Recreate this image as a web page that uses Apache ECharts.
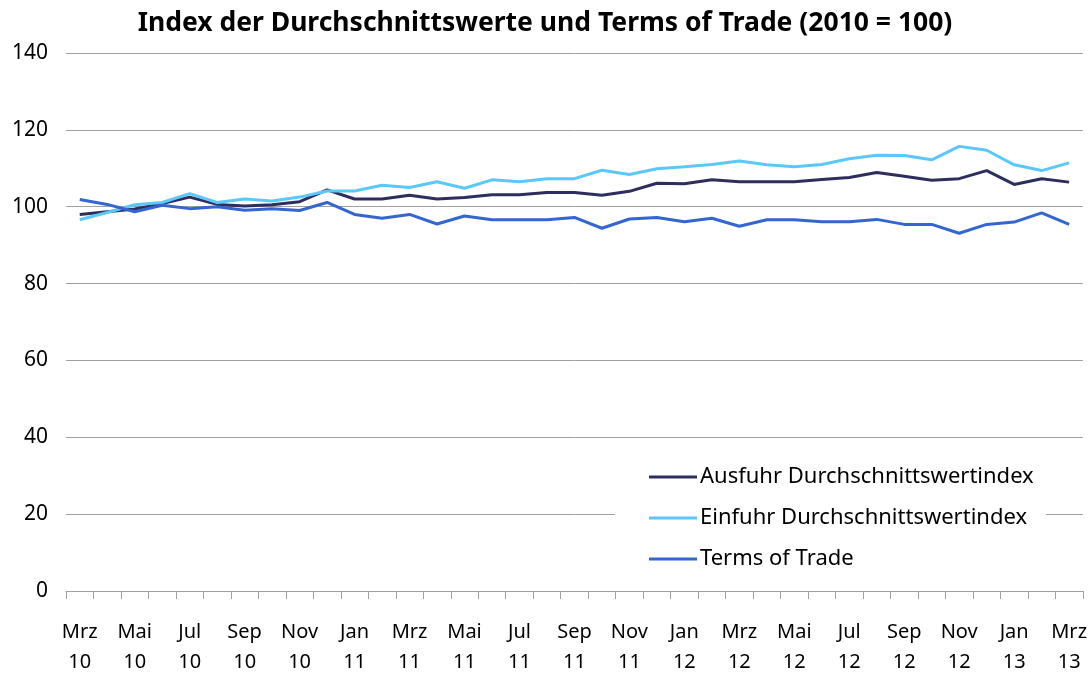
<!DOCTYPE html>
<html>
<head>
<meta charset="utf-8">
<script src="https://cdn.jsdelivr.net/npm/echarts@6/dist/echarts.min.js"></script>
<style>
  html, body { margin: 0; padding: 0; background: #fff; }
  #chart { width: 1090px; height: 677px; }
</style>
</head>
<body>
<div id="chart"></div>
<script>
// Monate Mrz 2010 bis Mrz 2013
const categories = [
  "Mrz\n10", "Apr\n10", "Mai\n10", "Jun\n10", "Jul\n10", "Aug\n10", "Sep\n10", "Okt\n10", "Nov\n10", "Dez\n10",
  "Jan\n11", "Feb\n11", "Mrz\n11", "Apr\n11", "Mai\n11", "Jun\n11", "Jul\n11", "Aug\n11", "Sep\n11", "Okt\n11", "Nov\n11", "Dez\n11",
  "Jan\n12", "Feb\n12", "Mrz\n12", "Apr\n12", "Mai\n12", "Jun\n12", "Jul\n12", "Aug\n12", "Sep\n12", "Okt\n12", "Nov\n12", "Dez\n12",
  "Jan\n13", "Feb\n13", "Mrz\n13"
];

const ausfuhr = [
  98.0, 98.7, 99.4, 100.8, 102.5, 100.6, 100.2, 100.5, 101.3, 104.4,
  102.0, 102.0, 103.0, 102.0, 102.4, 103.1, 103.1, 103.7, 103.7, 103.0, 104.0, 106.1,
  106.0, 107.0, 106.5, 106.5, 106.5, 107.1, 107.6, 108.9, 107.9, 106.9, 107.3, 109.4,
  105.8, 107.3, 106.4
];

const einfuhr = [
  96.6, 98.5, 100.5, 101.1, 103.4, 101.1, 102.0, 101.5, 102.5, 104.1,
  104.1, 105.6, 105.0, 106.5, 104.8, 107.0, 106.5, 107.3, 107.3, 109.5, 108.4, 109.9,
  110.4, 111.0, 111.9, 110.9, 110.4, 111.0, 112.5, 113.4, 113.3, 112.2, 115.7, 114.7,
  110.9, 109.4, 111.4
];

const termsOfTrade = [
  101.9, 100.6, 98.7, 100.4, 99.5, 100.0, 99.1, 99.5, 99.0, 101.1,
  98.0, 97.0, 98.0, 95.5, 97.6, 96.6, 96.6, 96.6, 97.2, 94.4, 96.8, 97.2,
  96.1, 97.0, 94.9, 96.6, 96.6, 96.1, 96.1, 96.7, 95.4, 95.4, 93.1, 95.4,
  96.0, 98.4, 95.4
];

const seriesNames = ["Ausfuhr Durchschnittswertindex", "Einfuhr Durchschnittswertindex", "Terms of Trade"];

let font = "'Noto Sans', 'DejaVu Sans', sans-serif";
let mychart = echarts.init(document.getElementById("chart"));

function lineSeries(name, data, color) {
  return {
    name: name,
    type: "line",
    data: data,
    symbol: "none",
    smooth: false,
    lineStyle: { color: color, width: 3 },
    itemStyle: { color: color }
  };
}

mychart.setOption({
  animation: false,
  title: {
    text: "Index der Durchschnittswerte und Terms of Trade (2010 = 100)",
    left: "center",
    top: 5,
    textStyle: { fontFamily: font, fontSize: 26.5, fontWeight: "bold", color: "#000" }
  },
  legend: {
    orient: "vertical",
    left: 615,
    top: 460,
    padding: [6, 12, 6, 34],
    backgroundColor: "#fff",
    itemGap: 19,
    itemWidth: 48,
    itemHeight: 3,
    icon: "rect",
    textStyle: { fontFamily: font, fontSize: 22, color: "#000", padding: [0, 0, 0, -2] },
    data: seriesNames
  },
  grid: { left: 66, right: 5, top: 53, bottom: 85 },
  xAxis: {
    type: "category",
    data: categories,
    boundaryGap: true,
    axisLine: { lineStyle: { color: "#a0a0a0", width: 1 } },
    axisTick: { show: true, interval: 0, length: 8, lineStyle: { color: "#a0a0a0" } },
    axisLabel: {
      interval: 1,
      margin: 26,
      fontFamily: font,
      fontSize: 20,
      lineHeight: 30,
      color: "#000"
    }
  },
  yAxis: {
    type: "value",
    min: 0,
    max: 140,
    interval: 20,
    axisLine: { show: false },
    axisTick: { show: false },
    splitLine: { lineStyle: { color: "#a0a0a0", width: 1 } },
    axisLabel: { margin: 18, fontFamily: font, fontSize: 21, color: "#000" }
  },
  series: [
    lineSeries(seriesNames[0], ausfuhr, "#2e2e5e"),
    lineSeries(seriesNames[1], einfuhr, "#5ac8fa"),
    lineSeries(seriesNames[2], termsOfTrade, "#3466d2")
  ]
});
</script>
</body>
</html>
